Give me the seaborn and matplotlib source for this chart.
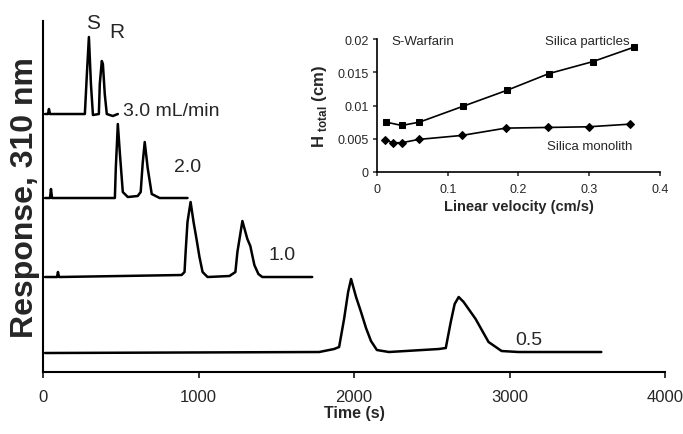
import matplotlib
matplotlib.use('Agg')
import matplotlib.pyplot as plt
from matplotlib import font_manager
import numpy as np
import seaborn as sns

sns.set_style('ticks')
installed = {f.name for f in font_manager.fontManager.ttflist}
narrow = 'Liberation Sans Narrow' if 'Liberation Sans Narrow' in installed else 'Liberation Sans'
plt.rcParams['font.family'] = [narrow, 'DejaVu Sans']
plt.rcParams['mathtext.fontset'] = 'custom'
plt.rcParams['mathtext.rm'] = narrow
plt.rcParams['mathtext.bf'] = narrow + ':bold'

# Chromatograms: time (s) and response above baseline (a.u.)
flow_labels = ['3.0 mL/min', '2.0', '1.0', '0.5']
baselines = [258, 174, 95, 20]

time_30 = [13, 32, 38, 45, 269, 282, 295, 308, 321, 359, 365, 378, 385, 397, 410, 449, 481]
resp_30 = [0, 0, 5, 0, 0, 40, 77, 30, -1, 0, 30, 53, 50, 20, 0, -2, 0]

time_20 = [13, 45, 51, 58, 462, 468, 481, 494, 513, 545, 609, 628, 641, 654, 673, 699, 750, 929]
resp_20 = [0, 0, 9, 0, 0, 30, 74, 45, 6, 1, 2, 6, 35, 56, 30, 4, 0, 0]

time_10 = [13, 90, 96, 103, 891, 910, 917, 929, 949, 968, 987, 1006, 1026, 1058, 1199,
           1237, 1250, 1282, 1314, 1333, 1359, 1385, 1410, 1731]
resp_10 = [0, 0, 5, 0, 2, 5, 25, 55, 75, 55, 38, 20, 5, 0, 1,
           5, 25, 56, 38, 31, 12, 3, 0, 0]

time_05 = [13, 1776, 1872, 1904, 1936, 1962, 1981, 2013, 2045, 2077, 2109, 2147, 2224,
           2545, 2590, 2622, 2647, 2673, 2705, 2782, 2865, 2949, 3058, 3590]
resp_05 = [-1, 0, 3, 5, 33, 60, 73, 55, 40, 24, 11, 2, 0,
           3, 4, 30, 48, 55, 50, 33, 10, 1, 0, 0]

traces = [(time_30, resp_30), (time_20, resp_20), (time_10, resp_10), (time_05, resp_05)]
time_ticks = [0, 1000, 2000, 3000, 4000]

# Inset: plate height vs linear velocity
vel_particles = [0.013, 0.035, 0.060, 0.122, 0.184, 0.243, 0.305, 0.364]
h_particles = [0.0075, 0.0070, 0.0075, 0.0099, 0.0123, 0.0148, 0.0166, 0.0188]
vel_monolith = [0.011, 0.023, 0.035, 0.059, 0.120, 0.182, 0.242, 0.299, 0.358]
h_monolith = [0.0048, 0.0044, 0.0044, 0.0049, 0.0055, 0.0066, 0.0067, 0.0068, 0.0072]
vel_ticks = [0, 0.1, 0.2, 0.3, 0.4]
h_ticks = [0, 0.005, 0.01, 0.015, 0.02]
h_ticklabels = ['0', '0.005', '0.01', '0.015', '0.02']

fig = plt.figure(figsize=(6.83, 4.35), dpi=100)
ax = fig.add_axes([0.063, 0.1425, 0.9107, 0.8069])

for (t, r), base in zip(traces, baselines):
    sns.lineplot(x=np.array(t), y=np.array(r) + base, ax=ax, color='black',
                 linewidth=1.8, sort=False, estimator=None)

ax.set_xlim(0, 4000)
ax.set_ylim(0, 351)
ax.set_yticks([])
ax.set_xticks(time_ticks)
ax.set_xticklabels([str(v) for v in time_ticks])
ax.tick_params(axis='x', direction='out', length=4, width=1.3, pad=8, labelsize=12)
for s in ['top', 'right']:
    ax.spines[s].set_visible(False)
for s in ['left', 'bottom']:
    ax.spines[s].set_linewidth(1.5)
    ax.spines[s].set_color('black')
ax.set_xlabel('Time (s)', fontsize=11.5, fontweight='bold', labelpad=1)
ax.set_ylabel('Response, 310 nm', fontsize=23, fontweight='bold',
              family=['Liberation Sans', 'DejaVu Sans'], labelpad=2)

# peak and flow-rate labels
ax.text(321, 350, 'S', fontsize=15, ha='center', va='center')
ax.text(474, 341, 'R', fontsize=15, ha='center', va='center')
ax.text(513, 262, flow_labels[0], fontsize=14, ha='left', va='center')
ax.text(929, 206, flow_labels[1], fontsize=14, ha='center', va='center')
ax.text(1538, 118, flow_labels[2], fontsize=14, ha='center', va='center')
ax.text(3122, 33, flow_labels[3], fontsize=14, ha='center', va='center')

# inset
ins = fig.add_axes([377 / 683, 0.6023, 0.4143, 0.3057])
ins.set_facecolor('none')
sns.lineplot(x=vel_particles, y=h_particles, ax=ins, color='black', linewidth=1.2,
             marker='s', markersize=5, markeredgecolor='black', sort=False, estimator=None)
sns.lineplot(x=vel_monolith, y=h_monolith, ax=ins, color='black', linewidth=1.2,
             marker='D', markersize=4, markeredgecolor='black', sort=False, estimator=None)
ins.set_xlim(0, 0.4)
ins.set_ylim(0, 0.02)
ins.set_xticks(vel_ticks)
ins.set_xticklabels([f'{v:g}' for v in vel_ticks])
ins.set_yticks(h_ticks)
ins.set_yticklabels(h_ticklabels)
ins.tick_params(direction='out', length=3, width=1.1, labelsize=9)
ins.tick_params(axis='x', pad=5)
ins.tick_params(axis='y', pad=3)
for s in ['top', 'right']:
    ins.spines[s].set_visible(False)
for s in ['left', 'bottom']:
    ins.spines[s].set_linewidth(1.2)
    ins.spines[s].set_color('black')
ins.set_xlabel('Linear velocity (cm/s)', fontsize=10.5, fontweight='bold', labelpad=3)
ins.set_ylabel(r'H $_{\mathbf{total}}$ (cm)', fontsize=12, fontweight='bold', labelpad=6)
ins.text(0.021, 0.0197, 'S-Warfarin', fontsize=9.5, ha='left', va='center')
ins.text(0.237, 0.0197, 'Silica particles', fontsize=9.5, ha='left', va='center')
ins.text(0.240, 0.0039, 'Silica monolith', fontsize=9.5, ha='left', va='center')

fig.savefig('out.png', dpi=100)
